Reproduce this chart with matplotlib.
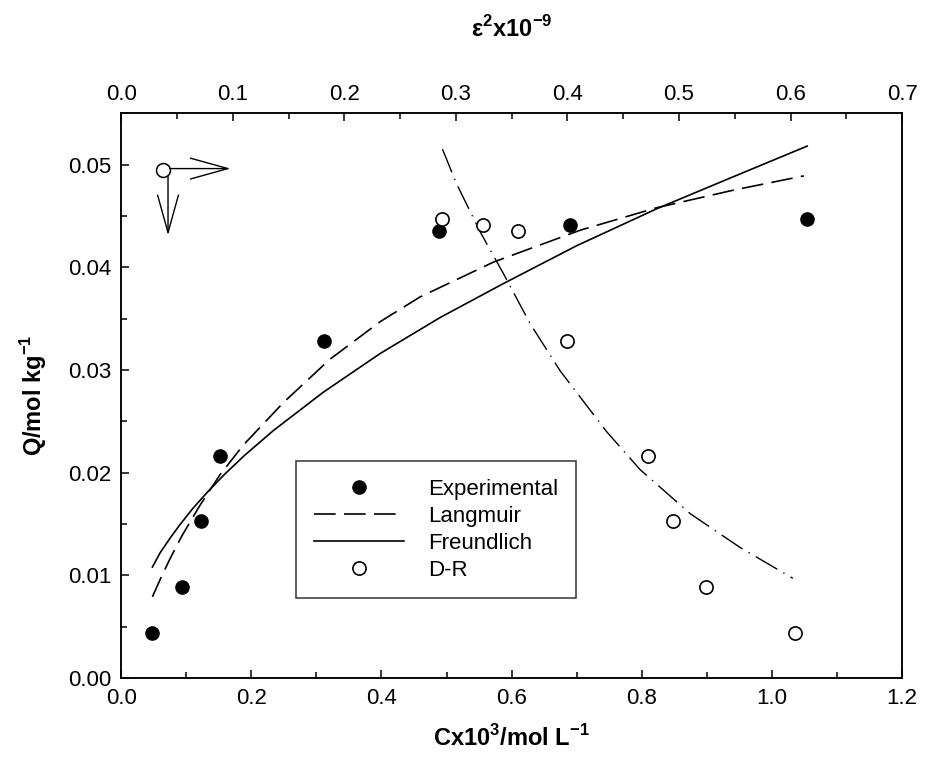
import numpy as np
import matplotlib
matplotlib.use("Agg")
import matplotlib.pyplot as plt
from matplotlib.lines import Line2D
from matplotlib.ticker import MultipleLocator, FormatStrFormatter

plt.rcParams['font.family'] = ['Liberation Sans', 'DejaVu Sans']
plt.rcParams['mathtext.fontset'] = 'custom'
plt.rcParams['mathtext.rm'] = 'Liberation Sans'
plt.rcParams['mathtext.bf'] = 'Liberation Sans:bold'

# experimental points (C x10^3 / mol L-1, Q / mol kg-1)
conc = [0.047, 0.094, 0.123, 0.152, 0.311, 0.489, 0.689, 1.054]
q_exp = [0.0044, 0.0089, 0.0153, 0.0216, 0.0328, 0.0435, 0.0441, 0.0447]

# D-R points on the top axis (eps^2 x10^-9)
eps2 = [0.604, 0.524, 0.495, 0.4726, 0.3995, 0.356, 0.3247, 0.288]
q_dr = [0.0044, 0.0089, 0.0153, 0.0216, 0.0328, 0.0435, 0.0441, 0.0447]

# fitted curves
lang_c = [0.048, 0.06, 0.075, 0.093, 0.12, 0.152, 0.188, 0.249, 0.32, 0.398, 0.459,
          0.572, 0.705, 0.823, 0.94, 1.049]
lang_q = [0.0079, 0.0096, 0.0116, 0.0138, 0.0167, 0.0198, 0.0227, 0.0268, 0.0310, 0.0347,
          0.0371, 0.0405, 0.0436, 0.0458, 0.0475, 0.0489]
freu_c = [0.048, 0.06, 0.075, 0.09, 0.11, 0.134, 0.16, 0.19, 0.234, 0.31, 0.398, 0.490,
          0.587, 0.70, 0.823, 0.94, 1.054]
freu_q = [0.0108, 0.0122, 0.0136, 0.0149, 0.0165, 0.0182, 0.0199, 0.0217, 0.0241, 0.0278,
          0.0316, 0.0351, 0.0384, 0.0421, 0.0457, 0.0488, 0.0518]
dr_e = [0.288, 0.3003, 0.322, 0.343, 0.3666, 0.3935, 0.435, 0.465, 0.51, 0.5548, 0.602]
dr_q = [0.0515, 0.0482, 0.0434, 0.0393, 0.0345, 0.0299, 0.0240, 0.0203, 0.0160, 0.0127, 0.0097]

fig = plt.figure(figsize=(9.32, 7.6), dpi=100)
ax = fig.add_axes([0.130, 0.108, 0.838, 0.743])
ax2 = ax.twiny()

lw = 1.2
ax.plot(lang_c, lang_q, color='black', lw=lw, dashes=(13, 5))
ax.plot(freu_c, freu_q, color='black', lw=lw)
ax.plot(conc, q_exp, 'o', color='black', ms=9.5, ls='none')
ax2.plot(dr_e, dr_q, color='black', lw=1.0, dashes=(18, 5, 1, 5))
ax2.plot(eps2, q_dr, 'o', mfc='white', mec='black', mew=1.2, ms=9.5, ls='none')

ax.set_xlim(0, 1.2)
ax.set_ylim(0, 0.055)
ax2.set_xlim(0, 0.7)

ax.xaxis.set_major_locator(MultipleLocator(0.2))
ax.xaxis.set_minor_locator(MultipleLocator(0.1))
ax.yaxis.set_major_locator(MultipleLocator(0.01))
ax.yaxis.set_minor_locator(MultipleLocator(0.005))
ax.xaxis.set_major_formatter(FormatStrFormatter('%.1f'))
ax.yaxis.set_major_formatter(FormatStrFormatter('%.2f'))
ax2.xaxis.set_major_locator(MultipleLocator(0.1))
ax2.xaxis.set_minor_locator(MultipleLocator(0.05))
ax2.xaxis.set_major_formatter(FormatStrFormatter('%.1f'))

for a in (ax, ax2):
    for s in a.spines.values():
        s.set_linewidth(1.1)
ax.tick_params(which='both', direction='in', top=False, right=False, labelsize=16, width=1.1)
ax.tick_params(which='major', length=6, pad=7)
ax.tick_params(which='minor', length=4.5)
ax2.tick_params(which='both', direction='in', labelsize=16, width=1.1)
ax2.tick_params(which='major', length=6, pad=6)
ax2.tick_params(which='minor', length=4.5)

ax.set_xlabel(r'Cx10$^{\mathbf{3}}$/mol L$^{\mathbf{-1}}$', fontsize=17, fontweight='bold', labelpad=12)
ax.set_ylabel(r'Q/mol kg$^{\mathbf{-1}}$', fontsize=17, fontweight='bold', labelpad=14)
ax2.set_xlabel(r'ε$^{\mathbf{2}}$x10$^{\mathbf{-9}}$', fontsize=17, fontweight='bold', labelpad=34)

# arrows showing which axis each set belongs to
ax.plot([0.054], [0.900], 'o', mfc='white', mec='black', mew=1.1, ms=10, transform=ax.transAxes)
arrow_style = '->,head_length=2.7,head_width=0.75'
ax.annotate('', xy=(0.140, 0.902), xytext=(0.062, 0.902), xycoords='axes fraction',
            arrowprops=dict(arrowstyle=arrow_style, color='black',
                            lw=1.0, mutation_scale=10, shrinkA=0, shrinkB=0))
ax.annotate('', xy=(0.060, 0.784), xytext=(0.060, 0.890), xycoords='axes fraction',
            arrowprops=dict(arrowstyle=arrow_style, color='black',
                            lw=1.0, mutation_scale=10, shrinkA=0, shrinkB=0))

handles = [
    Line2D([], [], marker='o', color='black', ls='none', ms=9.5),
    Line2D([], [], color='black', lw=lw, dashes=(13, 5)),
    Line2D([], [], color='black', lw=lw),
    Line2D([], [], marker='o', mfc='white', mec='black', mew=1.2, ls='none', ms=9.5),
]
labels = ['Experimental', 'Langmuir', 'Freundlich', 'D-R']
leg = ax2.legend(handles, labels, loc='upper left', bbox_to_anchor=(0.2237, 0.3846),
                 borderaxespad=0, fontsize=16, frameon=True, fancybox=False,
                 handlelength=4.05, handletextpad=1.08, labelspacing=0.27, borderpad=0.8)
leg.get_frame().set_edgecolor('black')
leg.get_frame().set_linewidth(1.1)

fig.savefig('out.png', dpi=100)
